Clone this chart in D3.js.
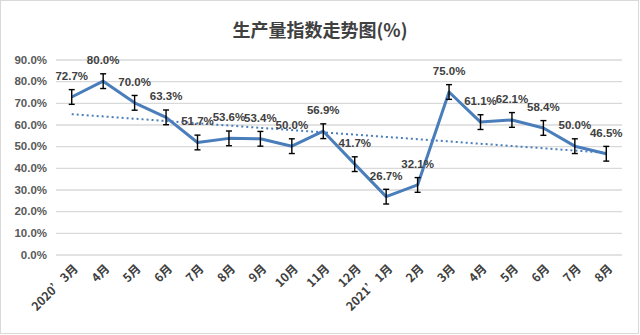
<!DOCTYPE html>
<html><head><meta charset="utf-8">
<script src="https://cdn.jsdelivr.net/npm/d3@7"></script>
<style>
body{margin:0;background:#fff;}
svg{display:block;}
</style></head>
<body>
<svg id="chart" width="640" height="335"></svg>
<script>
const title = "生产量指数走势图(%)";
const categories = ["2020’3月","4月","5月","6月","7月","8月","9月","10月","11月","12月","2021’1月","2月","3月","4月","5月","6月","7月","8月"];
const values = [72.7,80.0,70.0,63.3,51.7,53.6,53.4,50.0,56.9,41.7,26.7,32.1,75.0,61.1,62.1,58.4,50.0,46.5];
const errorAmount = 3.4;
const yTicks = [0,10,20,30,40,50,60,70,80,90];

const svg = d3.select("#chart");
const W = 640, H = 335;
const m = {left:56, right:18, top:59.5, bottom:80.5};

svg.append("rect").attr("x",0.5).attr("y",0.5).attr("width",W-2).attr("height",H-2)
  .attr("fill","#fff").attr("stroke","#d9d9d9").attr("stroke-width",1);

svg.append("text").attr("x",320).attr("y",37).attr("text-anchor","middle")
  .attr("font-family","'Noto Sans CJK SC', sans-serif").attr("font-size",18).attr("font-weight","bold")
  .attr("fill","#404040").text(title);

const x = d3.scaleBand().domain(d3.range(categories.length)).range([m.left, W-m.right]);
const y = d3.scaleLinear().domain([0,90]).range([H-m.bottom, m.top]);
const cx = i => x(i) + x.bandwidth()/2;

const font = "'Liberation Sans', Arial, sans-serif";
const cjkFont = "'Noto Sans CJK SC', sans-serif";

// gridlines
const yAxis = d3.axisLeft(y).tickValues(yTicks).tickSize(-(W-m.left-m.right)).tickFormat(d=>d.toFixed(1)+"%").tickPadding(9);
const gy = svg.append("g").attr("transform",`translate(${m.left},0)`).call(yAxis);
gy.select(".domain").remove();
gy.selectAll(".tick line").attr("stroke","#d9d9d9").attr("stroke-width",1.3);
gy.selectAll(".tick text").attr("font-family",font).attr("font-size",11.5).attr("font-weight","bold").attr("fill","#595959");

// x axis labels
const xAxis = d3.axisBottom(x).tickSize(0).tickFormat(i=>categories[i]);
const gx = svg.append("g").attr("transform",`translate(0,${H-m.bottom})`).call(xAxis);
gx.select(".domain").remove();
gx.selectAll(".tick text")
  .attr("font-family",cjkFont).attr("font-size",12).attr("font-weight","bold").attr("fill","#404040")
  .attr("text-anchor","end")
  .attr("transform","translate(4,12) rotate(-45)")
  .attr("dy","0.35em").attr("y",0);

// trend line (linear regression of the data)
const n = values.length;
const mx = d3.mean(d3.range(n)), my = d3.mean(values);
const slope = d3.sum(values,(v,i)=>(i-mx)*(v-my)) / d3.sum(d3.range(n),i=>(i-mx)*(i-mx));
const icpt = my - slope*mx;
svg.append("line")
  .attr("x1",cx(0)).attr("y1",y(icpt))
  .attr("x2",cx(n-1)).attr("y2",y(icpt+slope*(n-1)))
  .attr("stroke","#4a7ebb").attr("stroke-width",2).attr("stroke-dasharray","2,3");

// main line
const line = d3.line().x((d,i)=>cx(i)).y(d=>y(d));
svg.append("path").datum(values).attr("d",line).attr("fill","none")
  .attr("stroke","#4a7ebb").attr("stroke-width",3).attr("stroke-linejoin","round");

// error bars
const eb = svg.append("g").attr("stroke","#000").attr("stroke-width",1.4);
values.forEach((v,i)=>{
  const x0 = cx(i), y1 = y(v+errorAmount), y2 = y(v-errorAmount);
  eb.append("line").attr("x1",x0).attr("x2",x0).attr("y1",y1).attr("y2",y2);
  eb.append("line").attr("x1",x0-3).attr("x2",x0+3).attr("y1",y1).attr("y2",y1);
  eb.append("line").attr("x1",x0-3).attr("x2",x0+3).attr("y1",y2).attr("y2",y2);
});

// data labels
svg.append("g").selectAll("text").data(values).join("text")
  .attr("x",(d,i)=>cx(i)).attr("y",d=>y(d)-17)
  .attr("text-anchor","middle").attr("font-family",font).attr("font-size",11.5)
  .attr("font-weight","bold").attr("fill","#404040")
  .text(d=>d.toFixed(1)+"%");
</script>
</body></html>
